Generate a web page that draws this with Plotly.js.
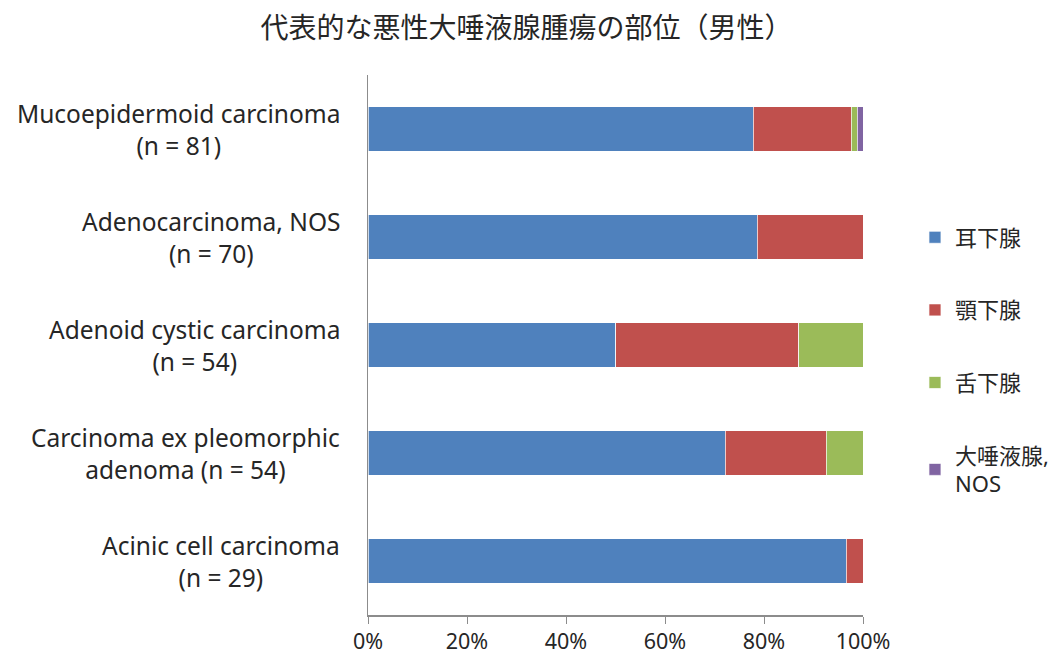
<!DOCTYPE html>
<html><head><meta charset="utf-8">
<script src="https://cdn.plot.ly/plotly-3.0.1.min.js"></script>
<style>html,body{margin:0;padding:0;background:#fff}#chart{width:1053px;height:655px}</style>
</head><body><div id="chart"></div>
<script>
const categories = ["Mucoepidermoid carcinoma<br>(n = 81)", "Adenocarcinoma, NOS<br>(n = 70)", "Adenoid cystic carcinoma<br>(n = 54)", "Carcinoma ex pleomorphic<br>adenoma (n = 54)", "Acinic cell carcinoma<br>(n = 29)"];
const seriesNames = ["耳下腺", "顎下腺", "舌下腺", "大唾液腺,<br>NOS"];
const parotid = [77.8, 78.6, 50.0, 72.2, 96.6];
const submandibular = [19.8, 21.4, 37.0, 20.4, 3.4];
const sublingual = [1.2, 0, 13.0, 7.4, 0];
const majorNOS = [1.2, 0, 0, 0, 0];
const tickVals = [0, 20, 40, 60, 80, 100];
const tickText = ["0%", "20%", "40%", "60%", "80%", "100%"];

const colors = ["#4F81BD", "#C0504D", "#9BBB59", "#8064A2"];
const font = "Noto Sans, Noto Sans CJK JP, sans-serif";
const txt = "#262626";
const seriesData = [parotid, submandibular, sublingual, majorNOS];
const traces = seriesData.map((vals, i) => ({
  type: "bar", orientation: "h", x: vals, y: categories, name: seriesNames[i],
  legendgroup: "g" + i, width: 0.41,
  marker: {color: colors[i], line: {color: "rgba(255,255,255,0.7)", width: 1}},
  hoverinfo: "x+name"
}));
const annotations = categories.map(c => ({
  xref: "paper", yref: "y", x: 0, y: c, xanchor: "right", yanchor: "middle",
  xshift: -26, align: "center", showarrow: false, text: c,
  font: {family: font, size: 24.5, color: txt}
}));
const layout = {
  width: 1053, height: 655, barmode: "stack", bargap: 0.59,
  margin: {l: 368, r: 190, t: 75, b: 40, autoexpand: false},
  paper_bgcolor: "#fff", plot_bgcolor: "#fff",
  font: {family: font, color: txt},
  title: {text: "代表的な悪性大唾液腺腫瘍の部位（男性）", xref: "container", x: 0.5, xanchor: "center",
          yref: "container", y: 0.957, yanchor: "middle", font: {family: font, size: 28, color: txt}},
  xaxis: {range: [0, 100], tickvals: tickVals, ticktext: tickText, showgrid: false, zeroline: false,
          showline: true, linecolor: "#8c8c8c", linewidth: 1.5, ticks: "outside", ticklen: 7, tickcolor: "#8c8c8c",
          tickfont: {family: font, size: 21.5, color: txt}, fixedrange: true},
  yaxis: {type: "category", autorange: "reversed", showticklabels: false, showgrid: false, zeroline: false,
          showline: true, linecolor: "#8c8c8c", linewidth: 1.5, ticks: "", fixedrange: true},
  legend: {x: 1.105, xanchor: "left", y: 0.738, yanchor: "top", traceorder: "grouped", tracegroupgap: 41,
           font: {family: font, size: 22, color: txt}, itemclick: false, itemdoubleclick: false},
  annotations: annotations,
  showlegend: true
};
Plotly.newPlot("chart", traces, layout, {displayModeBar: false, staticPlot: true});
</script></body></html>
